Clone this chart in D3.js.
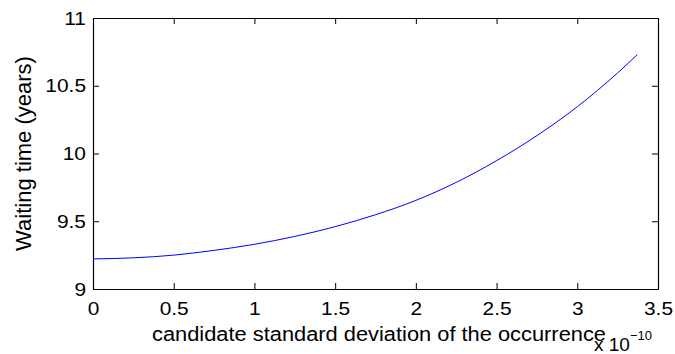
<!DOCTYPE html>
<html>
<head>
<meta charset="utf-8">
<script src="https://cdn.jsdelivr.net/npm/d3@7"></script>
<style>
  body { margin: 0; background: #fff; }
  svg text { font-family: "Liberation Sans", Arial, Helvetica, sans-serif; fill: #000; }
</style>
</head>
<body>
<svg id="chart" width="675" height="354"></svg>
<script>
// candidate standard deviation (x 1e-10) vs waiting time (years)
const sigma = [0, 0.25, 0.5, 0.75, 1.0, 1.25, 1.5, 1.75, 2.0, 2.25, 2.5, 2.75, 3.0, 3.25, 3.372];
const waitYears = [9.222, 9.230, 9.250, 9.285, 9.330, 9.388, 9.460, 9.548, 9.654, 9.787, 9.947, 10.132, 10.345, 10.595, 10.73];
const xTicks = [0, 0.5, 1, 1.5, 2, 2.5, 3, 3.5];
const yTicks = [9, 9.5, 10, 10.5, 11];

const margin = { top: 18, right: 17, bottom: 65, left: 93 };
const width = 675, height = 354;
const svg = d3.select('#chart');

const x = d3.scaleLinear().domain([0, 3.5]).range([margin.left, width - margin.right]);
const y = d3.scaleLinear().domain([9, 11]).range([height - margin.bottom, margin.top]);

const fmt = d => String(d);
const tickLen = 6;

// widen glyphs a bit, the original text is slightly stretched horizontally
function stretch(sel, k) {
  sel.each(function () {
    const len = this.getComputedTextLength();
    d3.select(this).attr('textLength', len * k).attr('lengthAdjust', 'spacingAndGlyphs');
  });
}

// bottom axis (ticks pointing inward)
const xAxis = svg.append('g')
  .attr('transform', `translate(0,${y(9)})`)
  .call(d3.axisBottom(x).tickValues(xTicks).tickFormat(fmt).tickSize(-tickLen).tickSizeOuter(0).tickPadding(13));
// top axis
const xTop = svg.append('g')
  .attr('transform', `translate(0,${y(11)})`)
  .call(d3.axisTop(x).tickValues(xTicks).tickFormat('').tickSize(-tickLen).tickSizeOuter(0));
// left axis
const yAxis = svg.append('g')
  .attr('transform', `translate(${x(0)},0)`)
  .call(d3.axisLeft(y).tickValues(yTicks).tickFormat(fmt).tickSize(-tickLen).tickSizeOuter(0).tickPadding(7));
// right axis
const yRight = svg.append('g')
  .attr('transform', `translate(${x(3.5)},0)`)
  .call(d3.axisRight(y).tickValues(yTicks).tickFormat('').tickSize(-tickLen).tickSizeOuter(0));

[xAxis, xTop, yAxis, yRight].forEach(g => {
  g.select('.domain').attr('stroke', '#000').attr('stroke-width', 1.2);
  g.selectAll('.tick line').attr('stroke', '#000').attr('stroke-width', 1);
  g.selectAll('.tick text').attr('font-size', 19).attr('fill', '#000')
    .style('font-family', '"Liberation Sans", Arial, sans-serif');
});
xAxis.selectAll('.tick text').attr('dy', '0.71em');
stretch(xAxis.selectAll('.tick text'), 1.1);
stretch(yAxis.selectAll('.tick text'), 1.1);

// curve
const line = d3.line()
  .x((d, i) => x(sigma[i]))
  .y(d => y(d))
  .curve(d3.curveMonotoneX);

svg.append('path')
  .datum(waitYears)
  .attr('fill', 'none')
  .attr('stroke', '#0000ff')
  .attr('stroke-width', 1)
  .attr('d', line);

// labels
const xLabel = svg.append('text')
  .attr('x', 152)
  .attr('y', 341)
  .attr('font-size', 20)
  .attr('textLength', 454)
  .attr('lengthAdjust', 'spacingAndGlyphs')
  .text('candidate standard deviation of the occurrence');

svg.append('text')
  .attr('transform', `translate(31,${(y(9) + y(11)) / 2}) rotate(-90)`)
  .attr('text-anchor', 'middle')
  .attr('font-size', 22)
  .text('Waiting time (years)');

// exponent
const expo = svg.append('text').attr('x', 594).attr('y', 351).attr('font-size', 19);
expo.append('tspan').text('x 10');
expo.append('tspan').attr('dy', -11).attr('font-size', 13).text('\u221210');
</script>
</body>
</html>
